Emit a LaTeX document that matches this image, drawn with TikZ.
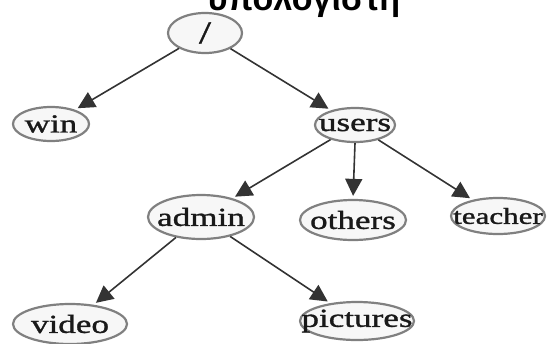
\documentclass[tikz,border=0pt]{standalone}
\usepackage{fontspec}
\setmainfont{Liberation Serif}[FakeStretch=1.35,FakeBold=1.2]
\newfontfamily\titlefont{Liberation Sans}
\usetikzlibrary{shapes.geometric,arrows.meta}
% directory ellipses: size fixed by minimum width/height, label may fill it
\newcommand{\dirlabel}[1]{\makebox[0pt]{#1}}
\tikzset{
  dirnode/.style={ellipse, draw=black!50, line width=2.2pt, fill=black!3,
    inner sep=0pt, text=black!90, font=\fontsize{26}{26}\selectfont},
  link/.style={draw=black!80, line width=1.6pt, shorten >=3pt,
    -{Triangle[length=17pt,width=17pt]}}
}
\begin{document}
\begin{tikzpicture}[x=1pt,y=-1pt]
  \useasboundingbox (0,0) rectangle (556,343);
  \node[font=\titlefont\bfseries\fontsize{34}{34}\selectfont, anchor=base]
    (title) at (304,10) {υπολογιστή};
  \node[dirnode, minimum width=74pt, minimum height=40pt,
    font=\fontsize{32}{32}\selectfont] (root) at (205,33) {\dirlabel{/}};
  \node[dirnode, minimum width=76pt, minimum height=34pt] (win) at (51,124) {\dirlabel{win}};
  \node[dirnode, minimum width=80pt, minimum height=34pt] (users) at (355,125) {\dirlabel{users}};
  \node[dirnode, minimum width=106pt, minimum height=44pt] (admin) at (201,217) {\dirlabel{admin}};
  \node[dirnode, minimum width=106pt, minimum height=40pt] (others) at (353,220) {\dirlabel{others}};
  \node[dirnode, minimum width=94pt, minimum height=36pt,
    font=\fontsize{23}{23}\selectfont] (teacher) at (498,216) {\dirlabel{teacher}};
  \node[dirnode, minimum width=114pt, minimum height=40pt] (video) at (70,324) {\dirlabel{video}};
  \node[dirnode, minimum width=114pt, minimum height=38pt] (pictures) at (357,321) {\dirlabel{pictures}};
  \draw[link] (root) -- (win);
  \draw[link] (root) -- (users);
  \draw[link] (users) -- (admin);
  \draw[link] (users.south) -- (others.north);
  \draw[link] (users) -- (teacher);
  \draw[link] (admin) -- (video);
  \draw[link] (admin) -- (pictures);
\end{tikzpicture}
\end{document}
